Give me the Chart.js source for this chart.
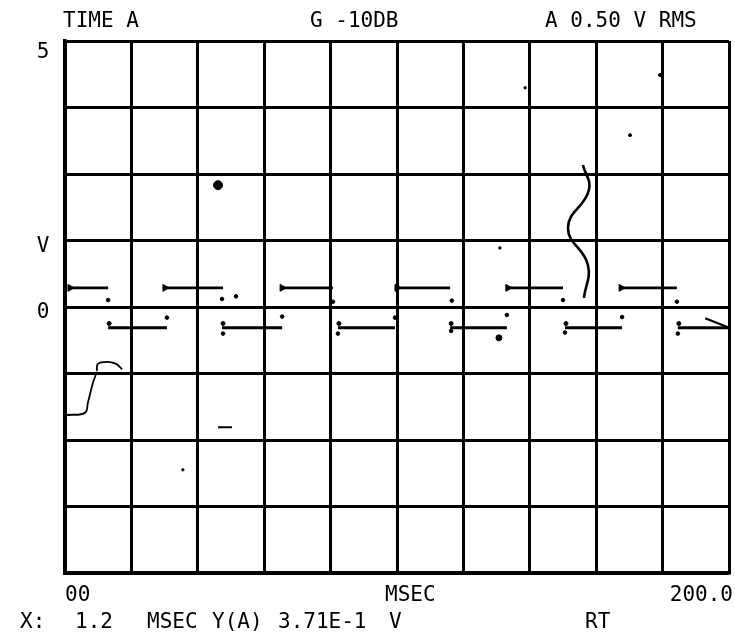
<!DOCTYPE html>
<html>
<head>
<meta charset="utf-8">
<script src="https://cdn.jsdelivr.net/npm/chart.js@4.4.1/dist/chart.umd.min.js"></script>
<style>
    html, body { margin: 0; padding: 0; background: #fff; }
    #wrap { width: 735px; height: 644px; }
</style>
</head>
<body>
<div id="wrap"><canvas id="scope"></canvas></div>
<script>
// time axis (MSEC) and voltage axis
const xMin = 0, xMax = 200, xStep = 20;
const yMin = -5, yMax = 5, yStep = 1.25;

// square wave: horizontal runs
const highLevel = 0.36;
const lowLevel = -0.39;
const highStart = [1.5, 30.1, 65.4, 100.0, 133.4, 167.5];
const highEnd = [13.0, 47.6, 80.7, 116.0, 150.0, 184.3];
const lowStart = [13.0, 47.3, 82.2, 116.0, 150.6, 184.6];
const lowEnd = [30.7, 65.4, 99.4, 133.1, 167.8, 199.7];

// little plotter dots next to the runs
const dotX = [13.0, 47.3, 51.5, 80.7, 116.5, 150.0, 184.3, 30.7, 65.4, 99.4, 133.1, 167.8, 47.6, 82.2, 116.3, 150.6, 184.6];
const dotY = [0.13, 0.15, 0.2, 0.1, 0.12, 0.13, 0.1, -0.2, -0.18, -0.2, -0.15, -0.19, -0.5, -0.5, -0.45, -0.48, -0.5];

// stray marks on the sheet
const strayX = [138.6, 170.2, 179.2, 35.5, 131.0, 130.7, 46.1];
const strayY = [4.12, 3.23, 4.36, -3.06, 1.11, -0.58, 2.29];
const straySize = [1.2, 1.5, 1.5, 1.2, 1.2, 3, 4.5];

// squiggle near 155 ms
const waveX = [156.0, 157.8, 151.5, 157.5, 156.3];
const waveY = [2.67, 2.2, 1.49, 0.79, 0.17];

// hooked curve bottom left
const hookX = [0.6, 6.0, 6.9, 8.4, 9.6, null, 9.6, 9.9, 12.7, 15.4, 17.2];
const hookY = [-2.03, -1.99, -1.8, -1.43, -1.22, null, -1.2, -1.07, -1.03, -1.07, -1.17];

// short dashes
const dashX = [46.1, 50.3, null, 192.8, 199.7];
const dashY = [-2.26, -2.26, null, -0.21, -0.38];

// texts
const headerText = ["TIME A", "G -10DB", "A 0.50 V RMS"];
const yTickValues = [5, 1.25, 0];
const yTickText = ["5", "V", "0"];
const xTickValues = [0, 200];
const xTickText = ["00", "200.0"];
const xTitle = "MSEC";
const readoutText = ["X:", "1.2", "MSEC", "Y(A)", "3.71E-1", "V", "RT"];

function runs(starts, ends, level) {
    const pts = [];
    starts.forEach((s, i) => {
        pts.push({ x: s, y: level }, { x: ends[i], y: level }, { x: ends[i], y: null });
    });
    return pts;
}
function zipPts(xs, ys) {
    return xs.map((x, i) => ({ x: x, y: x === null ? null : ys[i] }));
}

const FONT = '21px "DejaVu Sans Mono"';

const textPlugin = {
    id: "scopeText",
    afterDraw(chart) {
        const ctx = chart.ctx;
        const xs = chart.scales.x;
        const ys = chart.scales.y;
        ctx.save();
        ctx.fillStyle = "#000";
        ctx.font = FONT;
        ctx.textBaseline = "alphabetic";

        // header line
        const headerLeft = [63, 310, 545];
        ctx.textAlign = "left";
        headerText.forEach((t, i) => ctx.fillText(t, headerLeft[i], 27));

        // y labels (the top one sits under the frame)
        const yDrop = [17, 11, 11];
        ctx.textAlign = "center";
        yTickValues.forEach((v, i) => {
            ctx.fillText(yTickText[i], 43, ys.getPixelForValue(v) + yDrop[i]);
        });

        // x labels
        ctx.textAlign = "left";
        ctx.fillText(xTickText[0], xs.getPixelForValue(xTickValues[0]), 601);
        ctx.textAlign = "right";
        ctx.fillText(xTickText[1], xs.getPixelForValue(xTickValues[1]) + 4, 601);
        ctx.textAlign = "left";
        ctx.fillText(xTitle, 385, 601);

        // readout line
        const readLeft = [20, 75, 147, 212, 278, 389, 585];
        readoutText.forEach((t, i) => ctx.fillText(t, readLeft[i], 628));
        ctx.restore();
    },
};

new Chart(document.getElementById("scope"), {
    type: "scatter",
    data: {
        datasets: [
            {
                data: runs(highStart, highEnd, highLevel),
                showLine: true,
                spanGaps: false,
                borderColor: "#000",
                borderWidth: 2.8,
                pointRadius: 0,
            },
            {
                data: runs(lowStart, lowEnd, lowLevel),
                showLine: true,
                spanGaps: false,
                borderColor: "#000",
                borderWidth: 2.8,
                pointRadius: 0,
            },
            {
                data: highStart.map((x) => ({ x: x, y: highLevel })),
                pointStyle: "triangle",
                rotation: 90,
                pointRadius: 4,
                backgroundColor: "#000",
                borderColor: "#000",
            },
            {
                data: lowStart.map((x) => ({ x: x + 0.3, y: lowLevel + 0.08 })),
                pointRadius: 2,
                backgroundColor: "#000",
                borderColor: "#000",
            },
            {
                data: zipPts(dotX, dotY),
                pointRadius: 1.8,
                backgroundColor: "#000",
                borderColor: "#000",
            },
            {
                data: zipPts(strayX, strayY),
                pointRadius: straySize,
                backgroundColor: "#000",
                borderColor: "#000",
            },
            {
                data: zipPts(waveX, waveY),
                showLine: true,
                tension: 0.45,
                borderColor: "#000",
                borderWidth: 2.6,
                pointRadius: 0,
            },
            {
                data: zipPts(hookX, hookY),
                showLine: true,
                spanGaps: false,
                tension: 0.4,
                borderColor: "#000",
                borderWidth: 1.8,
                pointRadius: 0,
            },
            {
                data: zipPts(dashX, dashY),
                showLine: true,
                spanGaps: false,
                borderColor: "#000",
                borderWidth: 2.2,
                pointRadius: 0,
            },
        ],
    },
    options: {
        responsive: true,
        maintainAspectRatio: false,
        animation: false,
        layout: { padding: { left: 65, right: 6, top: 41, bottom: 71 } },
        plugins: {
            legend: { display: false },
            tooltip: { enabled: false },
        },
        scales: {
            x: {
                type: "linear",
                min: xMin,
                max: xMax,
                ticks: { display: false, stepSize: xStep },
                grid: { color: "#000", lineWidth: 3, drawTicks: false },
                border: { display: true, color: "#000", width: 3.5 },
            },
            y: {
                type: "linear",
                min: yMin,
                max: yMax,
                ticks: { display: false, stepSize: yStep },
                grid: { color: "#000", lineWidth: 3, drawTicks: false },
                border: { display: true, color: "#000", width: 3.5 },
            },
        },
    },
    plugins: [textPlugin],
});
</script>
</body>
</html>
